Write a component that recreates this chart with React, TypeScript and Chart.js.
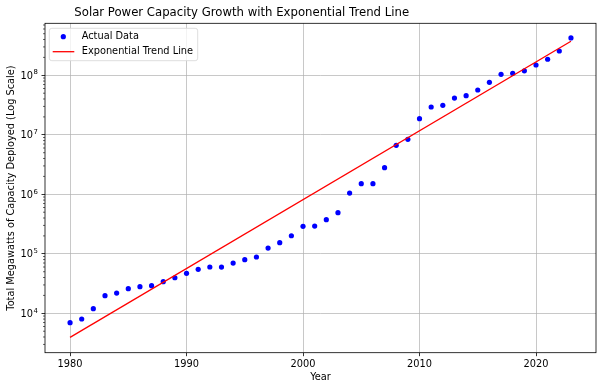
import React, { useEffect, useRef } from "react";
import { Chart, registerables } from "chart.js";

Chart.register(...registerables);

const years = [
  1980, 1981, 1982, 1983, 1984, 1985, 1986, 1987, 1988, 1989,
  1990, 1991, 1992, 1993, 1994, 1995, 1996, 1997, 1998, 1999,
  2000, 2001, 2002, 2003, 2004, 2005, 2006, 2007, 2008, 2009,
  2010, 2011, 2012, 2013, 2014, 2015, 2016, 2017, 2018, 2019,
  2020, 2021, 2022, 2023,
];
const capacity = [
  6950, 8020, 11950, 19800, 21900, 25900, 28000, 29100, 34000, 39600,
  47000, 54800, 60000, 59800, 70000, 79600, 88300, 125000, 154000, 201000,
  290000, 293000, 374000, 491000, 1050000, 1510000, 1510000, 2800000, 6650000, 8400000,
  18700000, 29300000, 31300000, 41500000, 45400000, 56600000, 76200000, 104000000, 108000000, 119000000,
  149000000, 186000000, 256000000, 424000000,
];
const trendYears = [1980, 2023];
const trendValues = [3950, 373000000];

const xTicks = [1980, 1990, 2000, 2010, 2020];
const yTicks = [1e4, 1e5, 1e6, 1e7, 1e8];

const FONT = "'DejaVu Sans', sans-serif";
const TICK_SIZE = 9.8;

export default function App() {
  const ref = useRef<HTMLCanvasElement | null>(null);
  useEffect(() => {
    if (!ref.current) return;
    const decor = {
      id: "decor",
      afterDatasetsDraw(chart: any) {
        const ctx = chart.ctx;
        const a = chart.chartArea;
        const y = chart.scales.y;
        ctx.save();
        // minor ticks on log axis
        ctx.strokeStyle = "#000";
        ctx.lineWidth = 0.6;
        for (let k = 3; k <= 8; k++) {
          for (let m = 2; m <= 9; m++) {
            const v = m * Math.pow(10, k);
            if (v < y.min || v > y.max) continue;
            const py = y.getPixelForValue(v);
            ctx.beginPath();
            ctx.moveTo(a.left - 2, py);
            ctx.lineTo(a.left, py);
            ctx.stroke();
          }
        }
        // y tick labels 10^n
        ctx.fillStyle = "#000";
        ctx.textBaseline = "alphabetic";
        ctx.textAlign = "right";
        for (const v of yTicks) {
          const py = y.getPixelForValue(v);
          const exp = String(Math.round(Math.log10(v)));
          const base = py + 3.6;
          ctx.font = `6.9px ${FONT}`;
          const ew = ctx.measureText(exp).width;
          const right = a.left - 7;
          ctx.fillText(exp, right, base - 4.4);
          ctx.font = `${TICK_SIZE}px ${FONT}`;
          ctx.fillText("10", right - ew - 0.6, base);
        }
        // frame
        ctx.lineWidth = 0.8;
        ctx.strokeStyle = "#000";
        ctx.strokeRect(a.left, a.top, a.right - a.left, a.bottom - a.top);
        // legend
        const lx = 49.3, ly = 28.3, lw = 148.4, lh = 32.4, r = 2.5;
        ctx.beginPath();
        ctx.moveTo(lx + r, ly);
        ctx.lineTo(lx + lw - r, ly);
        ctx.arcTo(lx + lw, ly, lx + lw, ly + r, r);
        ctx.lineTo(lx + lw, ly + lh - r);
        ctx.arcTo(lx + lw, ly + lh, lx + lw - r, ly + lh, r);
        ctx.lineTo(lx + r, ly + lh);
        ctx.arcTo(lx, ly + lh, lx, ly + lh - r, r);
        ctx.lineTo(lx, ly + r);
        ctx.arcTo(lx, ly, lx + r, ly, r);
        ctx.closePath();
        ctx.fillStyle = "rgba(255,255,255,0.8)";
        ctx.fill();
        ctx.strokeStyle = "#d4d4d4";
        ctx.lineWidth = 0.8;
        ctx.stroke();
        const ds = chart.data.datasets;
        ctx.fillStyle = ds[1].backgroundColor;
        ctx.beginPath();
        ctx.arc(63.3, 36.7, 2.6, 0, Math.PI * 2);
        ctx.fill();
        ctx.strokeStyle = ds[0].borderColor;
        ctx.lineWidth = 1.3;
        ctx.beginPath();
        ctx.moveTo(52.7, 51.7);
        ctx.lineTo(74.3, 51.7);
        ctx.stroke();
        ctx.fillStyle = "#000";
        ctx.font = `${TICK_SIZE}px ${FONT}`;
        ctx.textAlign = "left";
        ctx.textBaseline = "middle";
        ctx.fillText(ds[1].label, 81.7, 36.7);
        ctx.fillText(ds[0].label, 81.7, 51.7);
        // title
        ctx.font = `11.7px ${FONT}`;
        ctx.textAlign = "center";
        ctx.fillText("Solar Power Capacity Growth with Exponential Trend Line", 241.7, 13);
        ctx.restore();
      },
    };
    const chart = new Chart(ref.current, {
      type: "scatter",
      data: {
        datasets: [
          {
            type: "line",
            label: "Exponential Trend Line",
            data: trendYears.map((x, i) => ({ x, y: trendValues[i] })),
            borderColor: "#ff0000",
            backgroundColor: "#ff0000",
            borderWidth: 1.3,
            pointRadius: 0,
            fill: false,
            order: 1,
          },
          {
            type: "scatter",
            label: "Actual Data",
            data: years.map((x, i) => ({ x, y: capacity[i] })),
            backgroundColor: "#0000ff",
            borderColor: "#0000ff",
            borderWidth: 0,
            pointRadius: 2.6,
            order: 2,
          },
        ],
      } as any,
      plugins: [decor],
      options: {
        animation: false,
        responsive: false,
        layout: { padding: { top: 23.3, right: 3.3, left: 0, bottom: 0 } },
        plugins: { legend: { display: false }, tooltip: { enabled: false }, title: { display: false } },
        scales: {
          x: {
            type: "linear",
            min: 1977.85,
            max: 2025.15,
            afterFit(s: any) { s.height = 31.3; },
            afterBuildTicks(s: any) { s.ticks = xTicks.map((v) => ({ value: v })); },
            ticks: {
              font: { family: FONT, size: TICK_SIZE },
              color: "#000",
              padding: 2,
              maxRotation: 0,
              autoSkip: false,
              callback: (v: any) => String(v),
            },
            grid: { color: "#b0b0b0", lineWidth: 0.7, tickLength: 3.5, tickColor: "#000", tickWidth: 0.8 },
            border: { display: false },
            title: { display: true, text: "Year", font: { family: FONT, size: TICK_SIZE }, color: "#000", padding: { top: 0, bottom: 1.1 } },
          },
          y: {
            type: "logarithmic",
            min: 2178,
            max: 7.48e8,
            afterFit(s: any) { s.width = 45; },
            afterBuildTicks(s: any) { s.ticks = yTicks.map((v) => ({ value: v })); },
            ticks: {
              display: false,
              autoSkip: false,
            },
            grid: { color: "#b0b0b0", lineWidth: 0.7, tickLength: 3.5, tickColor: "#000", tickWidth: 0.8 },
            border: { display: false },
            title: { display: true, text: "Total Megawatts of Capacity Deployed (Log Scale)", font: { family: FONT, size: TICK_SIZE }, color: "#000", padding: { top: 5.6, bottom: 0 } },
          },
        },
      } as any,
    });
    return () => chart.destroy();
  }, []);
  return (
    <div style={{ position: "absolute", left: 0, top: 0, width: 600, height: 384, background: "#fff" }}>
      <canvas ref={ref} width={600} height={384} style={{ display: "block" }} />
    </div>
  );
}
